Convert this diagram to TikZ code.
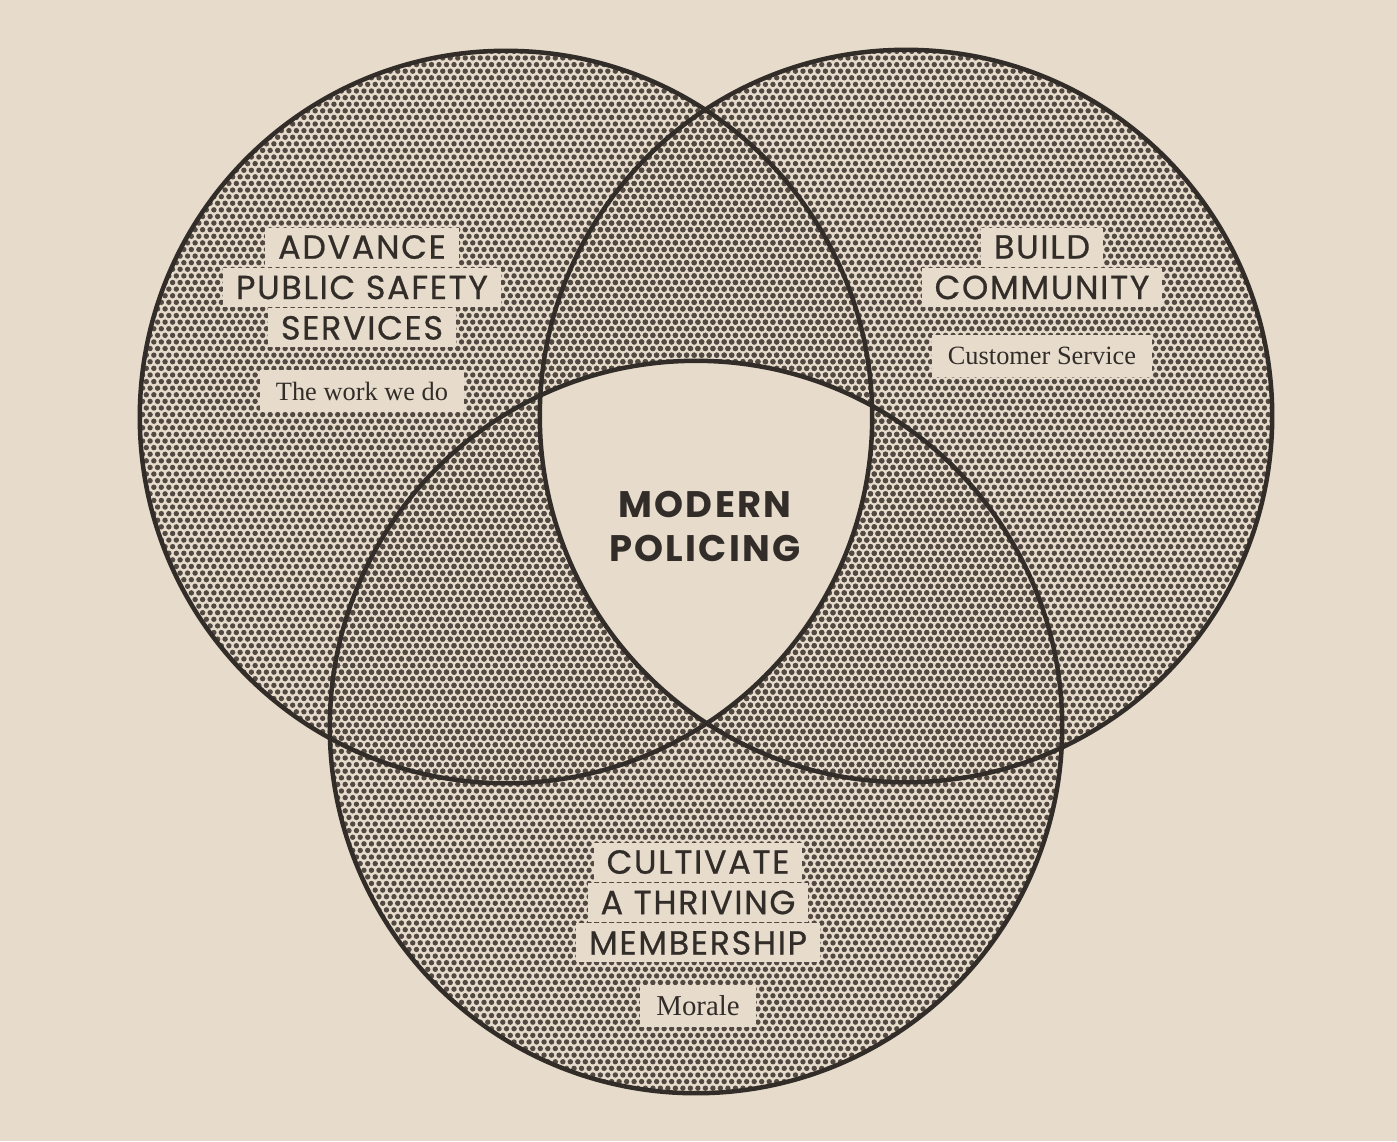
\documentclass[tikz,border=0pt]{standalone}
\usepackage{fontspec}
\setmainfont{Liberation Serif}
\newfontfamily\headfont[LetterSpace=5, FakeBold=0.7]{Poppins}
\newfontfamily\corefont[LetterSpace=6]{Poppins}
\usetikzlibrary{
  positioning
  , patterns
}

\definecolor{paper}{RGB}{231,220,204}
\definecolor{dotclr}{RGB}{82,74,66}
\definecolor{inkclr}{RGB}{50,45,41}

% hexagonal dot screen for the circles
\pgfdeclarepatternformonly{hexdots}{\pgfpoint{-0.35mm}{-0.35mm}}{\pgfpoint{1.1mm}{1.7mm}}{\pgfpoint{0.75mm}{1.32mm}}{
  \pgfpathcircle{\pgfpoint{0mm}{0mm}}{0.27mm}
  \pgfpathcircle{\pgfpoint{0.375mm}{0.66mm}}{0.27mm}
  \pgfusepath{fill}
}

\tikzset{
  head/.style={
    font=\headfont\fontsize{9.5}{11}\selectfont,
    text=inkclr,
    fill=paper,
    inner xsep=1.3mm,
    inner ysep=0pt,
    minimum height=0.39cm,
  },
  sub/.style={
    font=\fontsize{7.5}{9}\selectfont,
    text=inkclr,
    fill=paper,
    inner xsep=1.6mm,
    inner ysep=0pt,
    minimum height=0.42cm,
  },
  ring/.style={draw=inkclr, line width=0.45mm},
}

\begin{document}
\begin{tikzpicture}[x=0.01cm, y=-0.01cm]
  \def\R{3.66cm}
  \useasboundingbox (0,0) rectangle (1397,1141);
  \fill[paper] (0,0) rectangle (1397,1141);

  \coordinate (cSafety) at (506,417);
  \coordinate (cCommunity) at (906,416);
  \coordinate (cMembership) at (696,727);

  % dotted circles
  \foreach \c in {cSafety, cCommunity, cMembership}
    \fill[pattern=hexdots, pattern color=dotclr] (\c) circle[radius=\R];

  % plain centre
  \begin{scope}
    \clip (cSafety) circle[radius=\R];
    \clip (cCommunity) circle[radius=\R];
    \fill[paper] (cMembership) circle[radius=\R];
  \end{scope}

  \foreach \c in {cSafety, cCommunity, cMembership}
    \draw[ring] (\c) circle[radius=\R];

  % left circle
  \node[head] (advance) at (362,247) {ADVANCE};
  \node[head, below=0pt of advance] (publicsafety) {PUBLIC SAFETY};
  \node[head, below=0pt of publicsafety] (services) {SERVICES};
  \node[sub] (workwedo) at (362,391) {The work we do};

  % right circle
  \node[head] (build) at (1042,247) {BUILD};
  \node[head, below=0pt of build] (community) {COMMUNITY};
  \node[sub] (customer) at (1042,356) {Customer Service};

  % bottom circle
  \node[head] (cultivate) at (698,862) {CULTIVATE};
  \node[head, below=0pt of cultivate] (thriving) {A THRIVING};
  \node[head, below=0pt of thriving] (membership) {MEMBERSHIP};
  \node[sub, font=\fontsize{8.2}{9}\selectfont] (morale) at (698,1006) {Morale};

  % centre
  \node[text=inkclr, align=center, font=\corefont\bfseries\fontsize{10.5}{12.5}\selectfont]
    (modern) at (705,526) {MODERN\\POLICING};
\end{tikzpicture}
\end{document}
